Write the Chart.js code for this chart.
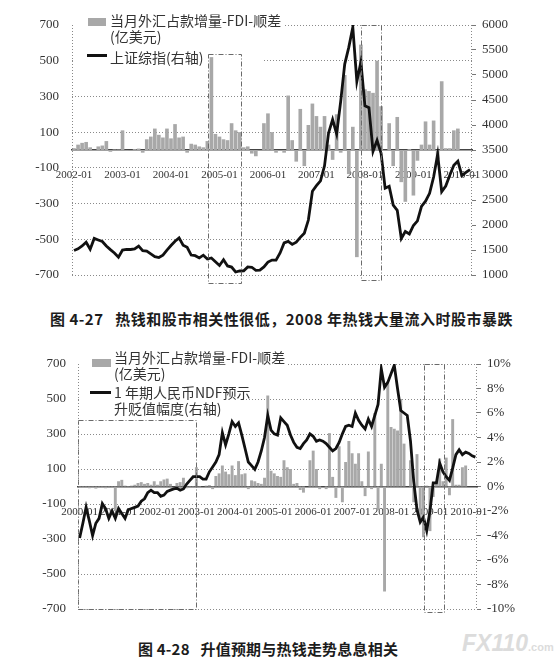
<!DOCTYPE html>
<html>
<head>
<meta charset="utf-8">
<script src="https://cdn.jsdelivr.net/npm/chart.js@4.4.1/dist/chart.umd.min.js"></script>
<style>
  body { margin: 0; background: #fff; width: 555px; height: 661px; position: relative; overflow: hidden;
         font-family: "Noto Sans CJK SC", sans-serif; }
  canvas { position: absolute; left: 0; }
  #c1 { top: 0; }
  #c2 { top: 340px; }
  .lg { position: absolute; font-size: 14px; line-height: 16px; color: #333; white-space: nowrap; }
  .sw { position: absolute; }
  .bar { background: #a8a8a8; }
  .ln { background: #111; }
  .cap { position: absolute; font-size: 15px; font-weight: bold; color: #1c1c1c; white-space: nowrap; }
  .wm { position: absolute; left: 462px; top: 630px; color: #dcdcdc; font-family: "Liberation Sans", sans-serif;
        font-weight: bold; font-style: italic; font-size: 23px; white-space: nowrap; }
  .wm span { font-size: 11px; font-style: normal; }
</style>
</head>
<body>
<canvas id="c1" width="555" height="300"></canvas>
<canvas id="c2" width="555" height="290"></canvas>

<div class="sw bar" style="left:88px;top:18px;width:18px;height:8px"></div>
<div class="lg" style="left:110px;top:12px">当月外汇占款增量-FDI-顺差</div>
<div class="lg" style="left:110px;top:28px">(亿美元)</div>
<div class="sw ln" style="left:87px;top:54px;width:20px;height:3px"></div>
<div class="lg" style="left:110px;top:49px">上证综指(右轴)</div>

<div class="sw bar" style="left:92px;top:359px;width:19px;height:8px"></div>
<div class="lg" style="left:114px;top:349px">当月外汇占款增量-FDI-顺差</div>
<div class="lg" style="left:114px;top:365px">(亿美元)</div>
<div class="sw ln" style="left:90px;top:391px;width:21px;height:3px"></div>
<div class="lg" style="left:114px;top:384px">1 年期人民币NDF预示</div>
<div class="lg" style="left:114px;top:400px">升贬值幅度(右轴)</div>

<div class="cap" style="left:50px;top:308px;letter-spacing:0.5px">图 4-27&nbsp;&nbsp;&nbsp;热钱和股市相关性很低，2008 年热钱大量流入时股市暴跌</div>
<div class="cap" style="left:138px;top:638px;letter-spacing:0.2px">图 4-28&nbsp;&nbsp;&nbsp;升值预期与热钱走势息息相关</div>
<div class="wm">FX110<span>.com</span></div>

<script>
// monthly, 2000-01 .. 2010-03
const hotMoney = [
  -5, -8, -5, -10, -8, -12, -5, -8, -10, -3, -5, -140,
  30, 38, 5, 3, 5, 10, 20, 25, 15, 20, 10, 30,
  10, 30, 40, 45, 15, 0, 20, 25, 50, -10, 3, 3,
  110, -5, 0, 5, 8, -15, 60, 75, 120, 85, 70, 120,
  65, 145, 70, 75, -15, 35, 30, 20, 15, 50, 520, 90,
  75, 60, 55, 150, 110, 100, 15, 20, -20, -35, 0, 150,
  205, 100, -15, 0, -15, 305, 55, -65, 230, -90, 140, 260,
  190, 130, 190, 30, -55, 200, -15, 420, -135, 130, -600, 590,
  340, 330, 320, 500, 245, 0, 150, -90, 185, -180, -290, 5,
  -255, -60, 30, 160, 30, 165, -50, 385, 10, 10, 110, 120,
  null, null, null
];

// 2000-01 .. 2010-03, percent
const ndf = [
  -4.2, -3.0, -1.7, -2.8, -4.0, -3.0, -2.6, -1.4, -1.8, -2.6, -2.0, -2.6,
  -1.8, -2.2, -2.6, -1.9, -1.8, -1.7, -1.6, -1.2, -1.0, -0.5, -0.3, -0.5,
  -0.5, -0.8, -0.7, -0.4, -0.3, -0.2, -0.15, -0.3, -0.2, 0.2, 0.5, 0.8,
  0.8, 0.8, 0.6, 0.6, 1.2, 1.6, 2.0, 2.6, 4.4, 3.4, 4.3, 5.3,
  4.9, 5.2, 4.2, 3.1, 2.0, 1.7, 1.4, 2.0, 2.9, 4.0, 5.8, 4.6,
  4.3, 4.2, 5.6, 5.3, 5.0, 4.2, 3.6, 3.2, 3.1, 3.5, 3.8, 4.3,
  4.1, 3.7, 3.8, 3.7, 3.5, 3.2, 2.9, 3.1, 3.6, 4.3, 4.9, 5.0,
  4.9, 6.0, 5.4, 5.0, 4.7, 5.5, 4.9, 5.8, 6.7, 9.6, 8.1, 8.5,
  9.2, 9.9, 8.0, 6.2, 6.0, 5.8, 3.7, 0.4, -1.9, -2.9, -2.5, -3.6,
  -2.0, 0.3, 0.3, 1.9, 1.2, 0.8, 0.5, 1.5, 2.6, 3.0, 2.6, 2.8,
  2.7, 2.5, 2.4
];

// 2002-01 .. 2010-03
const shIndex = [
  1491, 1524, 1580, 1656, 1515, 1732, 1700, 1670, 1581, 1507, 1441, 1357,
  1499, 1511, 1510, 1521, 1577, 1487, 1476, 1421, 1367, 1349, 1397, 1497,
  1590, 1675, 1742, 1595, 1555, 1399, 1386, 1342, 1396, 1320, 1341, 1266,
  1191, 1306, 1181, 1159, 1060, 1080, 1083, 1162, 1155, 1092, 1099, 1161,
  1258, 1299, 1298, 1440, 1641, 1672, 1612, 1658, 1752, 1837, 2099, 2675,
  2786, 2881, 3183, 3841, 4109, 3820, 4471, 5218, 5552, 5954, 4871, 5262,
  4383, 4348, 3473, 3693, 3433, 2736, 2775, 2397, 2293, 1729, 1871, 1821,
  1991, 2082, 2373, 2477, 2633, 2959, 3412, 2667, 2779, 2996, 3195, 3277,
  2989, 3051, 3109
];

function monthRange(y0, y1, m1) {
  const out = [];
  for (let y = y0; y <= y1; y++) {
    for (let m = 1; m <= 12; m++) {
      if (y === y1 && m > m1) break;
      out.push(`${y}-${String(m).padStart(2, '0')}`);
    }
  }
  return out;
}

const months2 = monthRange(2000, 2010, 3);
const months1 = monthRange(2002, 2010, 3);

const serif = { family: '"Liberation Serif", "Times New Roman", serif', size: 13 };
const serifSm = { family: '"Liberation Serif", "Times New Roman", serif', size: 11 };

// white patch behind legend, dash-dot boxes, dotted side frame
const decor = {
  id: 'decor',
  beforeDatasetsDraw(chart, args, opts) {
    const ctx = chart.ctx;
    ctx.save();
    ctx.fillStyle = '#fff';
    (opts.blank || []).forEach(r => ctx.fillRect(r[0], r[1], r[2], r[3]));
    ctx.restore();
  },
  afterDatasetsDraw(chart, args, opts) {
    const { ctx, chartArea: a, scales: { x, y } } = chart;
    ctx.save();
    ctx.strokeStyle = '#6a6a6a';
    ctx.lineWidth = 1;
    ctx.setLineDash([5, 2, 1, 2]);
    (opts.boxes || []).forEach(b => {
      const l = x.getPixelForValue(b.from), r = x.getPixelForValue(b.to);
      const t = y.getPixelForValue(b.top), btm = y.getPixelForValue(b.bottom);
      ctx.strokeRect(Math.round(l) + 0.5, Math.round(t) + 0.5, Math.round(r - l), Math.round(btm - t));
    });
    ctx.setLineDash([1, 2]);
    ctx.strokeStyle = '#888';
    ctx.beginPath();
    ctx.moveTo(a.left + 0.5, a.top); ctx.lineTo(a.left + 0.5, a.bottom);
    ctx.moveTo(a.right - 0.5, a.top); ctx.lineTo(a.right - 0.5, a.bottom);
    ctx.stroke();
    ctx.restore();
  }
};

function build(id, o) {
  return new Chart(document.getElementById(id), {
    type: 'bar',
    data: {
      labels: o.labels,
      datasets: [
        {
          type: 'line',
          data: o.line,
          yAxisID: 'y1',
          borderColor: '#111',
          borderWidth: 2.8,
          pointRadius: 0,
          tension: 0,
          order: 0
        },
        {
          data: o.bars,
          yAxisID: 'y',
          backgroundColor: '#a8a8a8',
          barPercentage: 0.9,
          categoryPercentage: 1,
          order: 1
        }
      ]
    },
    options: {
      responsive: false,
      animation: false,
      layout: { padding: { top: o.padTop, bottom: o.padBottom, left: 0, right: 0 } },
      plugins: {
        legend: { display: false },
        tooltip: { enabled: false },
        decor: { blank: o.blank, boxes: o.boxes }
      },
      scales: {
        x: {
          position: { y: 0 },
          grid: { display: false },
          border: { display: true, color: '#444', width: 1.5 },
          ticks: {
            autoSkip: false,
            maxRotation: 0,
            padding: 11,
            font: serifSm,
            color: '#333',
            callback(v) {
              const l = this.getLabelForValue(v);
              return l.endsWith('-01') ? l : null;
            }
          }
        },
        y: {
          position: 'left',
          min: -700,
          max: 700,
          ticks: { stepSize: 200, font: serif, color: '#333', padding: o.leftPad },
          grid: { color: '#8a8a8a', lineWidth: 1, drawTicks: false },
          border: { display: false, dash: [1, 2] },
          afterFit(s) { s.width = o.leftW; }
        },
        y1: {
          position: 'right',
          min: o.rMin,
          max: o.rMax,
          ticks: { stepSize: o.rStep, font: serif, color: '#333', padding: 6, callback: o.rFmt },
          grid: { drawOnChartArea: false, drawTicks: true, tickLength: 4, color: '#777' },
          border: { display: false },
          afterFit(s) { s.width = o.rightW; }
        }
      }
    },
    plugins: [decor]
  });
}

build('c1', {
  labels: months1,
  bars: hotMoney.slice(24),
  line: shIndex,
  padTop: 25, padBottom: 25, leftW: 72, rightW: 83, leftPad: 13,
  rMin: 1000, rMax: 6000, rStep: 500, rFmt: v => v,
  blank: [[73, 10, 210, 21], [73, 31, 189, 37]],
  boxes: [
    { from: 33.2, to: 41.3, top: 540, bottom: -745 },
    { from: 71.0, to: 76.0, top: 700, bottom: -730 }
  ]
});

build('c2', {
  labels: months2,
  bars: hotMoney,
  line: ndf,
  padTop: 24, padBottom: 21, leftW: 78, rightW: 78, leftPad: 12,
  rMin: -10, rMax: 10, rStep: 2, rFmt: v => v + '%',
  blank: [[79, 8, 207, 34], [79, 42, 164, 38]],
  boxes: [
    { from: -0.5, to: 36.0, top: 380, bottom: -700 },
    { from: 106.3, to: 112.4, top: 700, bottom: -715 }
  ]
});
</script>
</body>
</html>
